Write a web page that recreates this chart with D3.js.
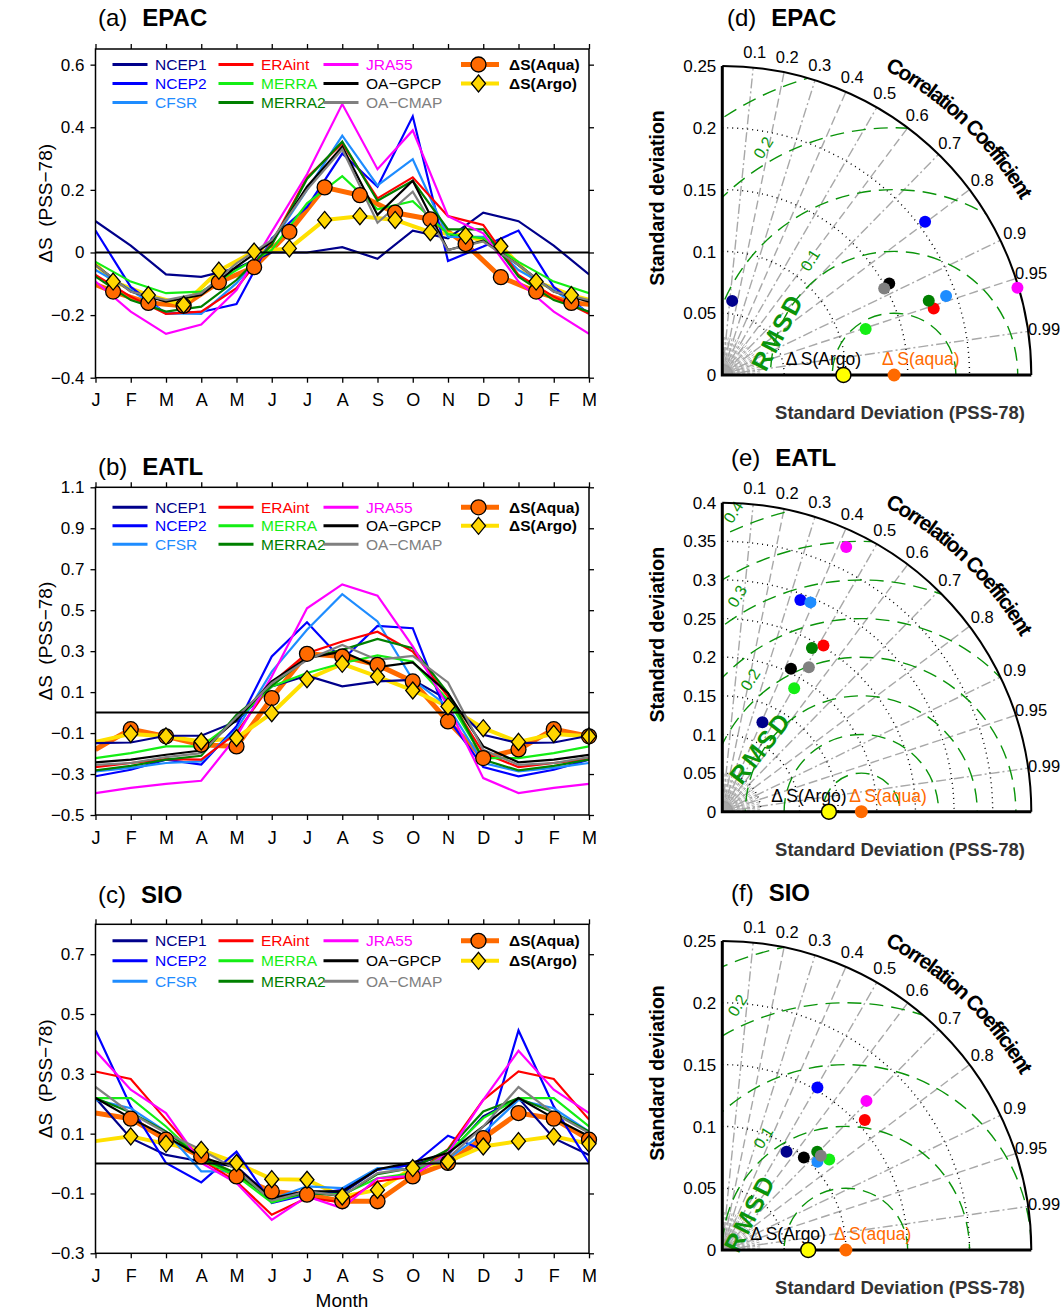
<!DOCTYPE html>
<html>
<head>
<meta charset="utf-8">
<script src="https://cdn.jsdelivr.net/npm/d3@7"></script>
<style>
body { margin: 0; background: #fff; }
svg { display: block; font-family: "Liberation Sans", Arial, Helvetica, sans-serif; }
</style>
</head>
<body>
<svg id="fig" width="1064" height="1310"></svg>
<script>
var months = ["J", "F", "M", "A", "M", "J", "J", "A", "S", "O", "N", "D", "J", "F", "M"];

var names = ["NCEP1", "NCEP2", "CFSR", "ERAint", "MERRA", "MERRA2", "JRA55", "OA\u2212GPCP", "OA\u2212CMAP"];
var colors = ["#00008b", "#0000ff", "#1e8cff", "#ff0000", "#14ee14", "#008000", "#ff00ff", "#000000", "#808080"];

// monthly dS (Jan..Dec), one row per dataset, same order as names
var epacRe = [
    [0.100, 0.022, -0.070, -0.078, -0.050, 0.000, 0.000, 0.017, -0.020, 0.070, 0.045, 0.127],
    [0.070, -0.110, -0.195, -0.190, -0.165, 0.045, 0.145, 0.316, 0.210, 0.435, -0.027, 0.019],
    [-0.056, -0.120, -0.195, -0.196, -0.098, 0.030, 0.200, 0.373, 0.214, 0.298, 0.050, 0.050],
    [-0.072, -0.141, -0.196, -0.189, -0.114, 0.030, 0.240, 0.348, 0.173, 0.240, 0.116, 0.088],
    [-0.030, -0.093, -0.130, -0.125, -0.056, 0.008, 0.157, 0.244, 0.138, 0.164, 0.059, 0.045],
    [-0.077, -0.152, -0.189, -0.173, -0.088, 0.024, 0.235, 0.354, 0.165, 0.229, 0.074, 0.074],
    [-0.093, -0.189, -0.260, -0.230, -0.120, 0.066, 0.250, 0.474, 0.266, 0.390, 0.116, 0.061],
    [-0.040, -0.125, -0.157, -0.136, -0.045, 0.035, 0.210, 0.338, 0.120, 0.229, 0.008, 0.038],
    [-0.040, -0.125, -0.152, -0.130, -0.035, 0.040, 0.200, 0.330, 0.095, 0.194, 0.008, 0.035]
];
// EPAC obs sit between months (J-F, F-M, ... D-J)
var epacAqua = [-0.125, -0.161, -0.170, -0.095, -0.047, 0.066, 0.208, 0.183, 0.127, 0.106, 0.027, -0.079];
var epacArgo = [-0.093, -0.136, -0.167, -0.058, 0.003, 0.013, 0.104, 0.116, 0.104, 0.065, 0.054, 0.020];

var eatlRe = [
    [-0.149, -0.146, -0.113, -0.113, -0.043, 0.128, 0.180, 0.128, 0.152, 0.160, 0.062, -0.108],
    [-0.311, -0.279, -0.230, -0.254, -0.067, 0.274, 0.441, 0.257, 0.423, 0.412, -0.027, -0.266],
    [-0.287, -0.270, -0.246, -0.238, -0.084, 0.200, 0.404, 0.578, 0.445, 0.160, 0.030, -0.246],
    [-0.266, -0.246, -0.227, -0.230, -0.100, 0.144, 0.290, 0.347, 0.395, 0.298, 0.078, -0.198],
    [-0.222, -0.198, -0.165, -0.165, -0.035, 0.128, 0.193, 0.241, 0.279, 0.249, 0.062, -0.222],
    [-0.282, -0.260, -0.230, -0.211, -0.011, 0.130, 0.266, 0.306, 0.360, 0.314, 0.095, -0.230],
    [-0.393, -0.368, -0.348, -0.333, -0.117, 0.176, 0.509, 0.626, 0.571, 0.323, 0.030, -0.320],
    [-0.243, -0.230, -0.206, -0.185, -0.035, 0.152, 0.266, 0.298, 0.222, 0.245, 0.095, -0.165],
    [-0.255, -0.246, -0.217, -0.198, -0.022, 0.144, 0.257, 0.330, 0.257, 0.277, 0.147, -0.182]
];
var eatlAqua = [-0.180, -0.081, -0.116, -0.157, -0.165, 0.071, 0.287, 0.274, 0.233, 0.152, -0.043, -0.222];
var eatlArgo = [-0.143, -0.104, -0.116, -0.141, -0.124, -0.003, 0.163, 0.238, 0.176, 0.108, 0.030, -0.076];

var sioRe = [
    [0.219, 0.085, 0.029, 0.007, -0.010, -0.115, -0.093, -0.099, -0.020, -0.004, 0.029, 0.158],
    [0.445, 0.191, 0.002, -0.063, 0.040, -0.132, -0.104, -0.088, -0.020, -0.004, 0.093, 0.046],
    [0.213, 0.185, 0.107, -0.026, -0.026, -0.119, -0.076, -0.082, -0.015, -0.020, 0.015, 0.102],
    [0.308, 0.283, 0.147, 0.013, -0.060, -0.171, -0.115, -0.130, -0.060, -0.043, 0.048, 0.213],
    [0.219, 0.219, 0.124, 0.013, -0.041, -0.130, -0.097, -0.104, -0.049, -0.032, 0.035, 0.152],
    [0.219, 0.171, 0.107, 0.018, -0.032, -0.121, -0.097, -0.108, -0.035, -0.015, 0.046, 0.174],
    [0.377, 0.247, 0.169, 0.002, -0.065, -0.188, -0.110, -0.149, -0.049, -0.041, 0.035, 0.213],
    [0.219, 0.152, 0.091, 0.022, -0.015, -0.115, -0.093, -0.093, -0.019, 0.004, 0.035, 0.124],
    [0.256, 0.169, 0.102, 0.046, -0.020, -0.124, -0.093, -0.108, -0.032, -0.015, 0.018, 0.124]
];
var sioAqua = [0.169, 0.150, 0.080, 0.024, -0.043, -0.093, -0.104, -0.126, -0.126, -0.043, 0.002, 0.085];
var sioArgo = [0.075, 0.091, 0.066, 0.046, 0.002, -0.052, -0.054, -0.110, -0.088, -0.015, 0.007, 0.057];

// Taylor statistics vs dS(Aqua): std (PSS-78) and correlation, order as names
var epacStd = [0.0605, 0.2056, 0.192, 0.1793, 0.1218, 0.1775, 0.249, 0.154, 0.1485];
var epacCor = [0.132, 0.798, 0.943, 0.954, 0.952, 0.941, 0.959, 0.877, 0.882];
var eatlStd = [0.127, 0.292, 0.294, 0.2518, 0.185, 0.2417, 0.3783, 0.2053, 0.218];
var eatlCor = [0.409, 0.346, 0.388, 0.520, 0.503, 0.480, 0.424, 0.433, 0.514];
var sioStd = [0.095, 0.1524, 0.105, 0.156, 0.1134, 0.1105, 0.1678, 0.0998, 0.1103];
var sioCor = [0.547, 0.505, 0.733, 0.739, 0.763, 0.695, 0.695, 0.661, 0.723];
var refAquaStd = [0.139, 0.180, 0.100];
var refArgoStd = [0.098, 0.138, 0.0695];

var corrTicks = [0.1, 0.2, 0.3, 0.4, 0.5, 0.6, 0.7, 0.8, 0.9, 0.95, 0.99];

var svg = d3.select("#fig");
var FONT = "\"Liberation Sans\", Arial, sans-serif";
var AQUA = "#ff6a00", ARGO = "#ffe000", ARGOFILL = "#ffd700", RGREEN = "#0a940a";
var diamond = "M0,-8.5L7,0L0,8.5L-7,0Z";

function title(xp, yp, lab, reg) {
    var t = svg.append("text").attr("x", xp).attr("y", yp).attr("font-size", 24);
    t.append("tspan").text("(" + lab + ")");
    t.append("tspan").attr("font-weight", "bold").attr("dx", 15).text(reg);
}

var x = d3.scaleLinear().domain([0, 14]).range([95.5, 589]);

function drawSeries(p) {
    var y = d3.scaleLinear().domain(p.dom).range([p.bottom, p.top]);
    var g = svg.append("g");
    var fmt = function(d) { return d === 0 ? "0" : d3.format(".1f")(d); };

    g.append("clipPath").attr("id", "clip" + p.id)
	.append("rect").attr("x", x(0)).attr("y", p.top)
	.attr("width", x(14) - x(0)).attr("height", p.bottom - p.top);

    // axes (ticks outward)
    var ax = [
	d3.axisLeft(y).tickValues(p.ticks).tickSize(5).tickPadding(6).tickFormat(fmt),
	d3.axisRight(y).tickValues(p.ticks).tickSize(5).tickFormat(""),
	d3.axisTop(x).tickValues(d3.range(15)).tickSize(5).tickFormat(""),
	d3.axisBottom(x).tickValues(d3.range(15)).tickSize(5).tickFormat(i => months[i])
    ];
    var tr = ["translate(" + x(0) + ",0)", "translate(" + x(14) + ",0)",
	      "translate(0," + p.top + ")", "translate(0," + p.bottom + ")"];
    ax.forEach(function(a, i) {
	var ag = g.append("g").attr("transform", tr[i]).call(a);
	ag.select(".domain").remove();
	ag.selectAll("line").attr("stroke", "#000").attr("stroke-width", 1.3);
	ag.selectAll("text").attr("font-family", FONT).attr("fill", "#000");
	if (i == 0) ag.selectAll("text").attr("font-size", 17);
	if (i == 3) ag.selectAll("text").attr("font-size", 18).attr("y", 16).attr("dy", "0.71em");
    });

    var line = d3.line().x(d => x(d[0])).y(d => y(d[1]));
    var obsPts = function(v) {
	if (p.half) return d3.range(-1, 15).map(k => [k + 0.5, v[(k + 12) % 12]]);
	return d3.range(15).map(i => [i, v[i % 12]]);
    };
    var aq = obsPts(p.aqua), ar = obsPts(p.argo);
    var lines = g.append("g").attr("clip-path", "url(#clip" + p.id + ")");
    lines.append("path").attr("d", line(aq)).attr("fill", "none")
	.attr("stroke", AQUA).attr("stroke-width", 5).attr("stroke-linejoin", "round");
    lines.append("path").attr("d", line(ar)).attr("fill", "none")
	.attr("stroke", ARGO).attr("stroke-width", 4).attr("stroke-linejoin", "round");

    lines.selectAll(".re")
	.data(p.re)
	.enter().append("path")
	.attr("class", "re")
	.attr("d", v => line(d3.range(15).map(i => [i, v[i % 12]])))
	.attr("fill", "none")
	.attr("stroke", (v, i) => colors[i])
	.attr("stroke-width", 2.2)
	.attr("stroke-linejoin", "miter");

    g.append("line").attr("x1", x(0)).attr("x2", x(14))
	.attr("y1", y(0)).attr("y2", y(0))
	.attr("stroke", "#000").attr("stroke-width", 2);

    var inRange = d => d[0] > 0 && d[0] <= 14;
    g.selectAll(".aq").data(aq.filter(inRange)).enter().append("circle")
	.attr("cx", d => x(d[0])).attr("cy", d => y(d[1])).attr("r", 7.5)
	.attr("fill", AQUA).attr("stroke", "#000").attr("stroke-width", 1.3);
    g.selectAll(".ar").data(ar.filter(inRange)).enter().append("path")
	.attr("d", diamond)
	.attr("transform", d => "translate(" + x(d[0]) + "," + y(d[1]) + ")")
	.attr("fill", ARGOFILL).attr("stroke", "#000").attr("stroke-width", 1.3);

    g.append("rect").attr("x", x(0)).attr("y", p.top)
	.attr("width", x(14) - x(0)).attr("height", p.bottom - p.top)
	.attr("fill", "none").attr("stroke", "#000").attr("stroke-width", 1.5);

    // legend
    var lx = [112.5, 218.5, 323.5];
    names.forEach(function(n, i) {
	var cx = lx[Math.floor(i / 3)], cy = p.top + p.legY[i % 3];
	g.append("line").attr("x1", cx).attr("x2", cx + 35).attr("y1", cy).attr("y2", cy)
	    .attr("stroke", colors[i]).attr("stroke-width", 3);
	g.append("text").attr("x", cx + 42.5).attr("y", cy).attr("dy", "0.36em")
	    .attr("font-size", 15.5).attr("fill", colors[i]).text(n);
    });
    [["\u0394S(Aqua)", AQUA, 5], ["\u0394S(Argo)", ARGO, 4]].forEach(function(o, i) {
	var cy = p.top + p.legY[i];
	g.append("line").attr("x1", 461).attr("x2", 499).attr("y1", cy).attr("y2", cy)
	    .attr("stroke", o[1]).attr("stroke-width", o[2]);
	if (i == 0)
	    g.append("circle").attr("cx", 478.5).attr("cy", cy).attr("r", 7.5)
	    .attr("fill", AQUA).attr("stroke", "#000").attr("stroke-width", 1.3);
	else
	    g.append("path").attr("d", diamond).attr("transform", "translate(478.5," + cy + ")")
	    .attr("fill", ARGOFILL).attr("stroke", "#000").attr("stroke-width", 1.3);
	g.append("text").attr("x", 509).attr("y", cy).attr("dy", "0.36em")
	    .attr("font-size", 15.5).attr("font-weight", "bold").text(o[0]);
    });

    svg.append("text")
	.attr("transform", "translate(52," + ((p.top + p.bottom) / 2 - 10) + ") rotate(-90)")
	.attr("text-anchor", "middle").attr("font-size", 19)
	.text("\u0394S\u00a0\u00a0(PSS\u221278)");
    title(98, p.titleY, p.id, p.region);
}

var R = 309;
function drawTaylor(p) {
    var g = svg.append("g");
    var r = d3.scaleLinear().domain([0, p.max]).range([0, R]);
    var ox = p.ox, oy = p.oy;
    var P = (xs, ys) => [ox + r(xs), oy - r(ys)];
    var quarter = "M" + ox + "," + oy + "L" + ox + "," + (oy - R) +
	"A" + R + "," + R + " 0 0 1 " + (ox + R) + "," + oy + "Z";
    g.append("clipPath").attr("id", "q" + p.id).append("path").attr("d", quarter);

    // fan near origin
    d3.range(3, 90, 3).forEach(function(a) {
	var t = a * Math.PI / 180;
	g.append("line").attr("x1", ox).attr("y1", oy)
	    .attr("x2", ox + 38 * Math.cos(t)).attr("y2", oy - 38 * Math.sin(t))
	    .attr("stroke", "#b0b0b0").attr("stroke-width", 1).attr("stroke-dasharray", "3,2");
    });
    g.append("path").attr("d", d3.arc()({innerRadius: 0, outerRadius: 11, startAngle: 0, endAngle: Math.PI / 2}))
	.attr("transform", "translate(" + ox + "," + oy + ")").attr("fill", "#a0a0a0");

    // correlation rays
    corrTicks.forEach(function(c, i) {
	var t = Math.acos(c);
	g.append("line").attr("x1", ox).attr("y1", oy)
	    .attr("x2", ox + R * Math.cos(t)).attr("y2", oy - R * Math.sin(t))
	    .attr("stroke", "#a8a8a8").attr("stroke-width", 1.4)
	    .attr("stroke-dasharray", i % 2 ? "9,4" : "10,3,2,3");
	g.append("text").attr("x", ox + (R + 16) * Math.cos(t)).attr("y", oy - (R + 16) * Math.sin(t))
	    .attr("dy", "0.36em").attr("text-anchor", "middle").attr("font-size", 16.5).text(c);
    });

    // std dev arcs
    var ticks = d3.range(0, Math.round(p.max / 0.05) + 1).map(k => +(k * 0.05).toFixed(2));
    ticks.filter(s => s > 0 && s < p.max).forEach(function(s) {
	var pa = d3.path();
	pa.arc(ox, oy, r(s), -Math.PI / 2, 0, false);
	g.append("path").attr("d", pa.toString()).attr("fill", "none")
	    .attr("stroke", "#000").attr("stroke-width", 1.4).attr("stroke-dasharray", "1,4");
    });

    // RMSD arcs centred on dS(Aqua)
    var rm = g.append("g").attr("clip-path", "url(#q" + p.id + ")");
    d3.range(1, Math.round(p.max / 0.05) + 1).forEach(function(k) {
	rm.append("circle").attr("cx", ox + r(p.aqua)).attr("cy", oy).attr("r", r(k * 0.05))
	    .attr("fill", "none").attr("stroke", RGREEN).attr("stroke-width", 1.4)
	    .attr("stroke-dasharray", "14,8");
    });
    p.rmsdLab.forEach(function(o) {
	var q = P(o[1], o[2]);
	g.append("text").attr("transform", "translate(" + q[0] + "," + q[1] + ") rotate(-58)")
	    .attr("text-anchor", "middle").attr("dy", "0.36em").attr("font-size", 16)
	    .attr("fill", RGREEN).text(o[0]);
    });
    var q = P(p.rmsdPos[0], p.rmsdPos[1]);
    g.append("text").attr("transform", "translate(" + q[0] + "," + q[1] + ") rotate(" + p.rmsdPos[2] + ")")
	.attr("text-anchor", "middle").attr("dy", "0.36em").attr("font-size", 25)
	.attr("font-weight", "bold").attr("letter-spacing", 2.5).attr("fill", RGREEN).text("RMSD");

    // frame
    var pa = d3.path();
    pa.moveTo(ox, oy - R);
    pa.arc(ox, oy, R, -Math.PI / 2, 0, false);
    g.append("path").attr("d", pa.toString()).attr("fill", "none").attr("stroke", "#000").attr("stroke-width", 2);
    g.append("path").attr("d", "M" + ox + "," + (oy - R) + "V" + oy + "H" + (ox + R))
	.attr("fill", "none").attr("stroke", "#000").attr("stroke-width", 3);

    ticks.forEach(function(s) {
	g.append("text").attr("x", ox - 6).attr("y", oy - r(s)).attr("dy", "0.36em")
	    .attr("text-anchor", "end").attr("font-size", 17).text(s);
    });

    // correlation title on the arc
    var rr = R + 37, a0 = 62 * Math.PI / 180, a1 = 18 * Math.PI / 180;
    g.append("path").attr("id", "cc" + p.id).attr("fill", "none")
	.attr("d", "M" + (ox + rr * Math.cos(a0)) + "," + (oy - rr * Math.sin(a0)) +
	      "A" + rr + "," + rr + " 0 0 1 " + (ox + rr * Math.cos(a1)) + "," + (oy - rr * Math.sin(a1)));
    g.append("text").attr("font-size", 21).attr("font-weight", "bold").attr("letter-spacing", -1.6)
	.append("textPath").attr("href", "#cc" + p.id).text("Correlation Coefficient");

    // data points
    g.selectAll(".tp")
	.data(p.std.map((s, i) => ({s: s, c: p.cor[i], i: i})))
	.enter().append("circle")
	.attr("cx", d => ox + r(d.s) * d.c)
	.attr("cy", d => oy - r(d.s) * Math.sqrt(1 - d.c * d.c))
	.attr("r", 6)
	.attr("fill", d => colors[d.i]);

    g.append("text").attr("x", ox + r(p.argo) - 20).attr("y", oy - 10)
	.attr("text-anchor", "middle").attr("font-size", 17.5).text("\u0394\u2009S(Argo)");
    g.append("text").attr("x", ox + r(p.aqua) - 12).attr("y", oy - 10)
	.attr("font-size", 17.5).attr("fill", AQUA).text("\u0394\u2009S(aqua)");
    g.append("circle").attr("cx", ox + r(p.aqua)).attr("cy", oy).attr("r", 6.5).attr("fill", AQUA);
    g.append("circle").attr("cx", ox + r(p.argo)).attr("cy", oy).attr("r", 7.5)
	.attr("fill", "#ffff00").attr("stroke", "#000").attr("stroke-width", 1.5);

    svg.append("text").attr("transform", "translate(" + (ox - 58) + "," + (oy - 177) + ") rotate(-90)")
	.attr("text-anchor", "middle").attr("font-size", 19.5).attr("font-weight", "bold")
	.text("Standard deviation");
    svg.append("text").attr("x", 900).attr("y", oy + 44).attr("text-anchor", "middle")
	.attr("font-size", 18.5).attr("font-weight", "bold").attr("fill", "#333")
	.text("Standard Deviation (PSS-78)");
    title(p.titleX, p.titleY, p.id, p.region);
}

drawSeries({id: "a", region: "EPAC", top: 49, bottom: 377.7, dom: [-0.4, 0.65],
	    ticks: [-0.4, -0.2, 0, 0.2, 0.4, 0.6], re: epacRe, aqua: epacAqua, argo: epacArgo,
	    half: true, legY: [15.5, 34.5, 53.5], titleY: 26});
drawSeries({id: "b", region: "EATL", top: 487.3, bottom: 815, dom: [-0.5, 1.1],
	    ticks: [-0.5, -0.3, -0.1, 0.1, 0.3, 0.5, 0.7, 0.9, 1.1], re: eatlRe, aqua: eatlAqua, argo: eatlArgo,
	    half: false, legY: [20, 38.5, 57], titleY: 475});
drawSeries({id: "c", region: "SIO", top: 924.3, bottom: 1253.3, dom: [-0.3, 0.8],
	    ticks: [-0.3, -0.1, 0.1, 0.3, 0.5, 0.7], re: sioRe, aqua: sioAqua, argo: sioArgo,
	    half: false, legY: [16.5, 36.5, 57], titleY: 903});

svg.append("text").attr("x", 342).attr("y", 1307).attr("text-anchor", "middle")
    .attr("font-size", 19).text("Month");

drawTaylor({id: "d", region: "EPAC", ox: 722.3, oy: 375, max: 0.25, std: epacStd, cor: epacCor,
	    aqua: refAquaStd[0], argo: refArgoStd[0],
	    rmsdLab: [["0.1", 0.071, 0.093], ["0.2", 0.033, 0.184]], rmsdPos: [0.0445, 0.035, -62],
	    titleX: 727, titleY: 26});
drawTaylor({id: "e", region: "EATL", ox: 722.3, oy: 811.7, max: 0.4, std: eatlStd, cor: eatlCor,
	    aqua: refAquaStd[1], argo: refArgoStd[1],
	    rmsdLab: [["0.2", 0.036, 0.171], ["0.3", 0.019, 0.279], ["0.4", 0.014, 0.388]],
	    rmsdPos: [0.049, 0.083, -52], titleX: 731, titleY: 466});
drawTaylor({id: "f", region: "SIO", ox: 722.3, oy: 1250, max: 0.25, std: sioStd, cor: sioCor,
	    aqua: refAquaStd[2], argo: refArgoStd[2],
	    rmsdLab: [["0.1", 0.033, 0.091], ["0.2", 0.012, 0.198]], rmsdPos: [0.022, 0.030, -63],
	    titleX: 731, titleY: 901});
</script>
</body>
</html>
